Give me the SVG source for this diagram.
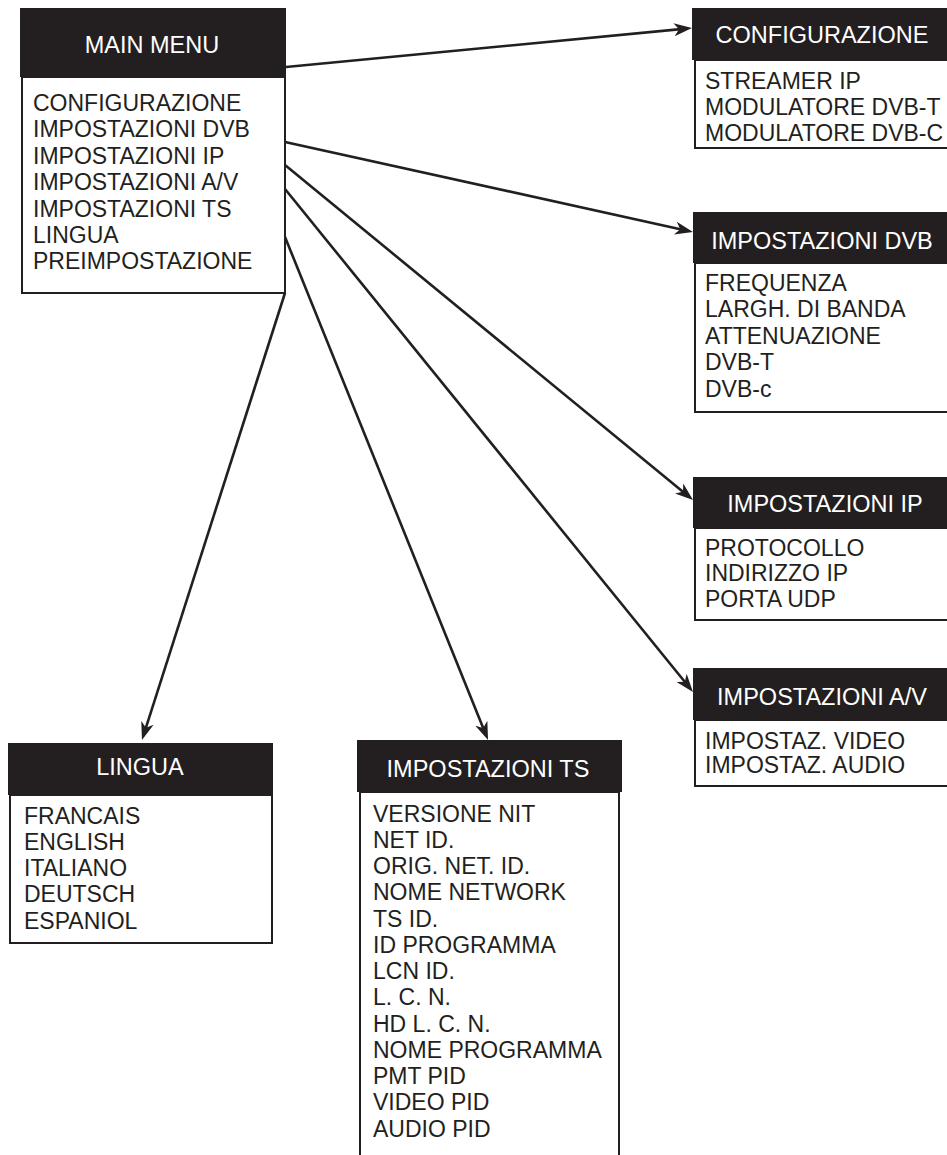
<svg xmlns="http://www.w3.org/2000/svg" width="947" height="1155" viewBox="0 0 947 1155">
<style>
.hd{fill:#231f20}
.bd{fill:#fff;stroke:#231f20;stroke-width:2}
.ht{font-family:"Liberation Sans",Arial,sans-serif;font-size:23.5px;fill:#fff;text-anchor:middle}
.tx{font-family:"Liberation Sans",Arial,sans-serif;font-size:23px;fill:#231f20}
.cn{stroke:#231f20;stroke-width:2.6;fill:none;marker-end:url(#ah)}
</style>
<defs>
<marker id="ah" markerUnits="userSpaceOnUse" markerWidth="20" markerHeight="14" refX="12" refY="7" orient="auto">
<path d="M0,0.5 L18,7 L0,13.5 L5,7 z" fill="#231f20"/>
</marker>
</defs>
<rect width="947" height="1155" fill="#fff"/>
<g id="connectors">
<line class="cn" x1="286" y1="67" x2="686" y2="28.6"/>
<line class="cn" x1="285" y1="142" x2="687.1" y2="230.7"/>
<line class="cn" x1="285" y1="165" x2="688.4" y2="496.2"/>
<line class="cn" x1="285" y1="189" x2="689.2" y2="687.3"/>
<line class="cn" x1="285" y1="237" x2="485.8" y2="734.4"/>
<line class="cn" x1="285" y1="293" x2="143.8" y2="734.3"/>
</g>
<g id="main-menu">
<rect class="bd" x="22" y="77" width="263" height="216"/>
<rect class="hd" x="20" y="8" width="266" height="69"/>
<text class="ht" x="152" y="53">MAIN MENU</text>
<text class="tx" x="33" y="111">CONFIGURAZIONE</text>
<text class="tx" x="33" y="137.4">IMPOSTAZIONI DVB</text>
<text class="tx" x="33" y="163.8">IMPOSTAZIONI IP</text>
<text class="tx" x="33" y="190.2">IMPOSTAZIONI A/V</text>
<text class="tx" x="33" y="216.6">IMPOSTAZIONI TS</text>
<text class="tx" x="33" y="243">LINGUA</text>
<text class="tx" x="33" y="269.4">PREIMPOSTAZIONE</text>
</g>
<g id="configurazione">
<rect class="bd" x="695" y="60" width="270" height="88"/>
<rect class="hd" x="692" y="8" width="270" height="52"/>
<text class="ht" x="822" y="43">CONFIGURAZIONE</text>
<text class="tx" x="705" y="88.5">STREAMER IP</text>
<text class="tx" x="705" y="114.5">MODULATORE DVB-T</text>
<text class="tx" x="705" y="140.5">MODULATORE DVB-C</text>
</g>
<g id="impostazioni-dvb">
<rect class="bd" x="695" y="263" width="270" height="149"/>
<rect class="hd" x="693" y="212" width="270" height="51"/>
<text class="ht" x="822" y="249">IMPOSTAZIONI DVB</text>
<text class="tx" x="705" y="290.5">FREQUENZA</text>
<text class="tx" x="705" y="317">LARGH. DI BANDA</text>
<text class="tx" x="705" y="343.5">ATTENUAZIONE</text>
<text class="tx" x="705" y="370">DVB-T</text>
<text class="tx" x="705" y="396.5">DVB-c</text>
</g>
<g id="impostazioni-ip">
<rect class="bd" x="695" y="528" width="270" height="92"/>
<rect class="hd" x="693" y="477" width="270" height="51"/>
<text class="ht" x="825" y="512">IMPOSTAZIONI IP</text>
<text class="tx" x="705" y="555.5">PROTOCOLLO</text>
<text class="tx" x="705" y="581">INDIRIZZO IP</text>
<text class="tx" x="705" y="606.5">PORTA UDP</text>
</g>
<g id="impostazioni-av">
<rect class="bd" x="695" y="720" width="270" height="66"/>
<rect class="hd" x="693" y="668" width="270" height="52"/>
<text class="ht" x="822" y="705">IMPOSTAZIONI A/V</text>
<text class="tx" x="705" y="748.5">IMPOSTAZ. VIDEO</text>
<text class="tx" x="705" y="772.5">IMPOSTAZ. AUDIO</text>
</g>
<g id="lingua">
<rect class="bd" x="10" y="795" width="262" height="148"/>
<rect class="hd" x="8" y="743" width="265" height="52"/>
<text class="ht" x="140" y="775">LINGUA</text>
<text class="tx" x="24" y="823.5">FRANCAIS</text>
<text class="tx" x="24" y="849.8">ENGLISH</text>
<text class="tx" x="24" y="876.1">ITALIANO</text>
<text class="tx" x="24" y="902.4">DEUTSCH</text>
<text class="tx" x="24" y="928.7">ESPANIOL</text>
</g>
<g id="impostazioni-ts">
<rect class="bd" x="360" y="792" width="259" height="380"/>
<rect class="hd" x="357" y="740" width="265" height="52"/>
<text class="ht" x="488" y="777">IMPOSTAZIONI TS</text>
<text class="tx" x="373" y="821.5">VERSIONE NIT</text>
<text class="tx" x="373" y="847.75">NET ID.</text>
<text class="tx" x="373" y="874">ORIG. NET. ID.</text>
<text class="tx" x="373" y="900.25">NOME NETWORK</text>
<text class="tx" x="373" y="926.5">TS ID.</text>
<text class="tx" x="373" y="952.75">ID PROGRAMMA</text>
<text class="tx" x="373" y="979">LCN ID.</text>
<text class="tx" x="373" y="1005.25">L. C. N.</text>
<text class="tx" x="373" y="1031.5">HD L. C. N.</text>
<text class="tx" x="373" y="1057.75">NOME PROGRAMMA</text>
<text class="tx" x="373" y="1084">PMT PID</text>
<text class="tx" x="373" y="1110.25">VIDEO PID</text>
<text class="tx" x="373" y="1136.5">AUDIO PID</text>
</g>
</svg>
